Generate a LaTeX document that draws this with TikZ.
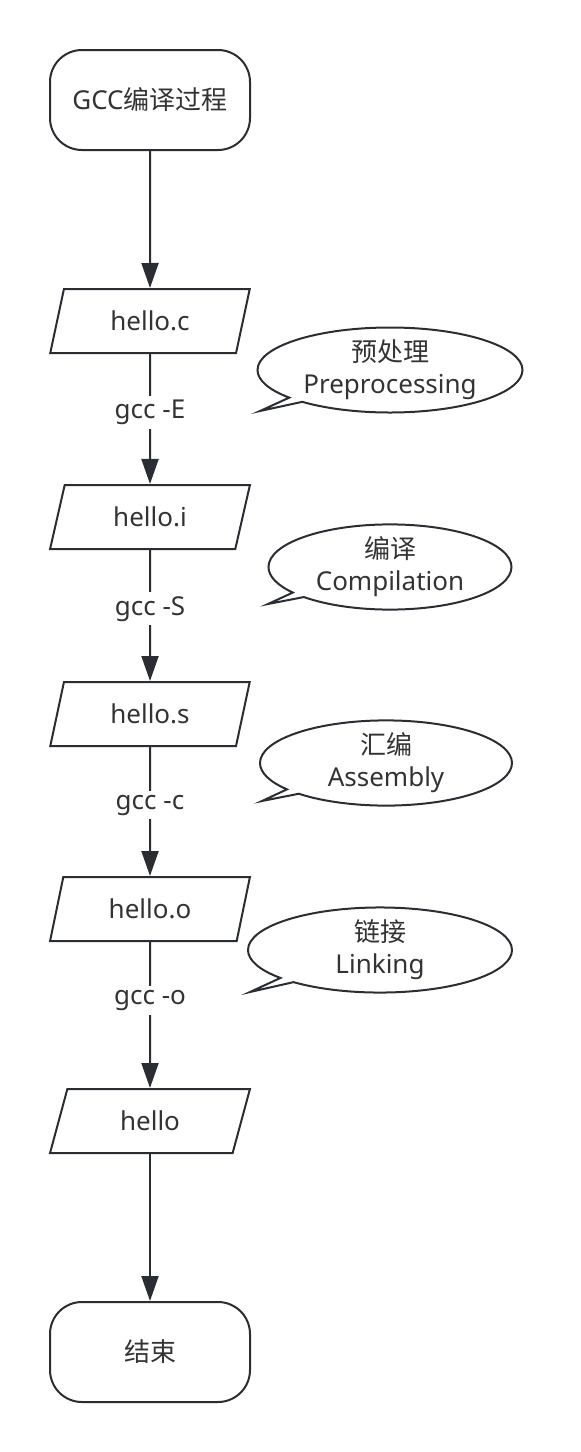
\documentclass[tikz,border=0pt]{standalone}
\usepackage{fontspec}
\setmainfont{Noto Sans}
\newfontfamily\cjk{Noto Sans CJK SC}
\usetikzlibrary{shapes.geometric,shapes.callouts,arrows.meta}
\definecolor{linegray}{HTML}{2A2E33}
\definecolor{textgray}{HTML}{333333}

\begin{document}
\begin{tikzpicture}[x=0.5pt,y=-0.5pt,
		font=\fontsize{13}{16}\selectfont, text=textgray,
		terminal/.style={draw=linegray, line width=1pt, rounded corners=16pt, minimum width=100pt, minimum height=50pt},
		iofile/.style={draw=linegray, line width=1pt, trapezium, trapezium left angle=72.6, trapezium right angle=107.4, trapezium stretches=true, minimum width=100pt, minimum height=32pt, inner sep=0pt},
		bubble/.style={draw=linegray, line width=1pt, ellipse callout, callout pointer arc=8, align=center, inner sep=0pt},
		flow/.style={draw=linegray, line width=1pt, -{Triangle[length=12.5pt,width=8.5pt]}},
		cmd/.style={fill=white, inner sep=2pt}]
		
		\useasboundingbox (0,0) rectangle (580,1452);
		
		% main chain
		\node[terminal] (start) at (150,100) {GCC{\cjk 编译过程}};
		\node[iofile] (c) at (150,321) {hello.c};
		\node[iofile] (i) at (150,517) {hello.i};
		\node[iofile] (s) at (150,714) {hello.s};
		\node[iofile] (o) at (150,909) {hello.o};
		\node[iofile] (out) at (150,1121) {hello};
		\node[terminal] (stop) at (150,1352) {{\cjk 结束}};
		
		\draw[flow] (start) -- (c);
		\draw[flow] (c) -- node[cmd, pos=0.45] {gcc -E} (i);
		\draw[flow] (i) -- node[cmd, pos=0.45] {gcc -S} (s);
		\draw[flow] (s) -- node[cmd, pos=0.45] {gcc -c} (o);
		\draw[flow] (o) -- node[cmd, pos=0.4] {gcc -o} (out);
		\draw[flow] (out) -- (stop);
		
		% stage notes
		\node[bubble, minimum width=132.5pt, minimum height=42.5pt, callout absolute pointer={(260,411)}] (pre) at (390,370) {{\cjk 预处理}\\Preprocessing};
		\node[bubble, minimum width=121.5pt, minimum height=38pt, callout absolute pointer={(268,604)}] (comp) at (390,567) {{\cjk 编译}\\Compilation};
		\node[bubble, minimum width=126pt, minimum height=38pt, callout absolute pointer={(262,801)}] (asm) at (386,763) {{\cjk 汇编}\\Assembly};
		\node[bubble, minimum width=132pt, minimum height=40.5pt, callout absolute pointer={(250,992)}] (link) at (380,950) {{\cjk 链接}\\Linking};
		
	\end{tikzpicture}
\end{document}
